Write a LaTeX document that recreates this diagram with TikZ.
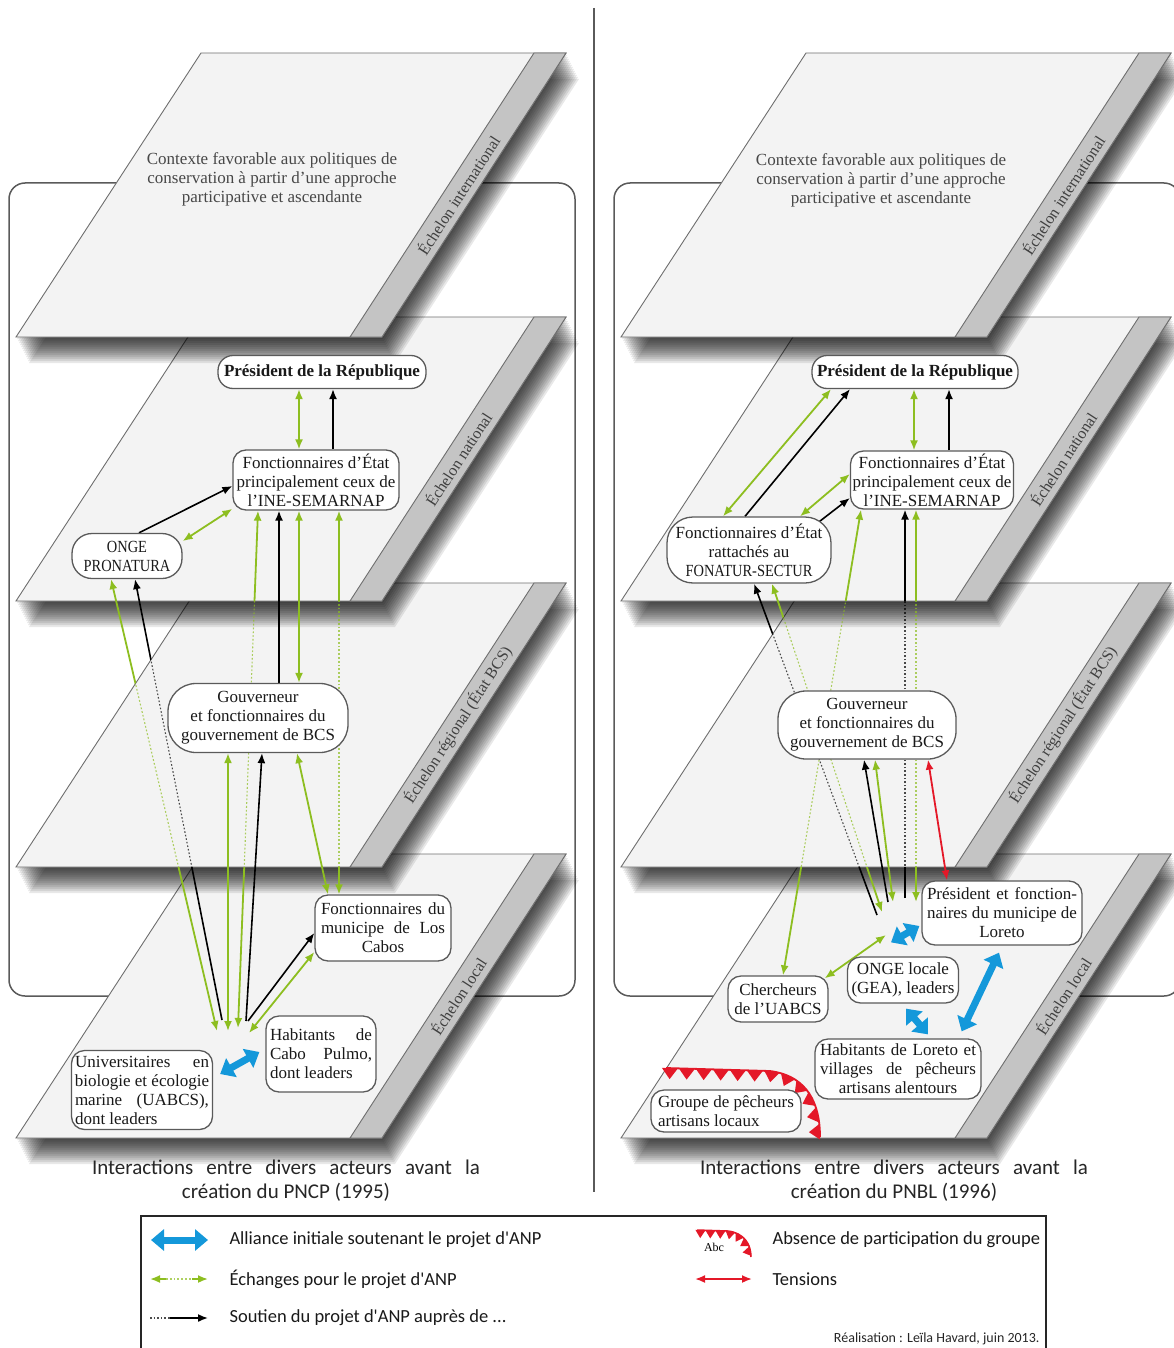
\documentclass[tikz,border=0pt]{standalone}
\usepackage{fontspec}
\setmainfont{Liberation Serif}
\newfontfamily\capfont{Carlito}
\usetikzlibrary{arrows.meta, calc, positioning, decorations.markings}

\definecolor{exchgreen}{RGB}{141,190,32}
\definecolor{allyblue}{RGB}{20,152,218}
\definecolor{tensred}{RGB}{228,24,40}
\definecolor{planefill}{RGB}{243,243,243}
\definecolor{stripgray}{RGB}{196,196,196}
\definecolor{edgegray}{RGB}{110,110,110}
\definecolor{boxline}{RGB}{90,90,90}

\pgfdeclarelayer{planes}
\pgfdeclarelayer{links}
\pgfsetlayers{planes,links,main}

\newcommand\boxfont{\fontsize{17}{19}\selectfont}
\newcommand\squeeze[1]{\scalebox{0.85}[1]{#1}}

% one level: x offset, bottom edge, label name, label
\newcommand\echelon[4]{%
  % soft shadow from stacked copies
  \foreach \k in {1,...,13}
    \fill[black, opacity=0.09]
      (#1+16+\k,#2+2*\k) -- (#1+382+\k,#2+2*\k) -- (#1+566+\k,#2-284+2*\k) -- (#1+201+\k,#2-284+2*\k) -- cycle;
  \filldraw[fill=planefill, draw=edgegray, line width=0.9pt]
    (#1+16,#2) -- (#1+382,#2) -- (#1+566,#2-284) -- (#1+201,#2-284) -- cycle;
  \filldraw[fill=stripgray, draw=edgegray, line width=0.9pt]
    (#1+350,#2) -- (#1+382,#2) -- (#1+566,#2-284) -- (#1+534,#2-284) -- cycle;
  \node[planelabel] (#3) at (#1+458,#2-142) {#4};
}
% visible part of the regional level
\newcommand\regpoly[1]{(#1+189,601) -- (#1+16,867) -- (#1+382,867) -- (#1+555,601) -- cycle}
% link that passes behind the regional level
\newcommand\crossreg[3]{%
  \begin{scope}
    \clip (-20,-20) -- (1200,-20) -- (1200,1400) -- (-20,1400) -- cycle \regpoly{#1};
    \draw[#2] #3;
  \end{scope}
  \begin{scope}
    \clip \regpoly{#1};
    \draw[#2, hid, -] #3;
  \end{scope}}

\begin{document}
\begin{tikzpicture}[
    x=1pt, y=-1pt,
    >={Latex[length=10pt,width=8pt]},
    actor/.style={draw=boxline, fill=white, line width=1.3pt, rounded corners=13pt,
        align=center, font=\boxfont, inner sep=2pt, text=black!90},
    pill/.style={actor, rounded corners=#1},
    exch/.style={draw=exchgreen, line width=1.8pt},
    supp/.style={draw=black, line width=1.6pt},
    tens/.style={draw=tensred, line width=1.8pt},
    ally/.style={draw=allyblue, line width=7pt, >={Triangle[length=13pt,width=21pt]}, <->},
    hid/.style={dotted, line width=1.1pt, draw opacity=0.7},
    planelabel/.style={rotate=57, font=\fontsize{16}{18}\selectfont, text=black!75},
    ctxtext/.style={align=center, font=\boxfont, text=black!72},
    captext/.style={align=center, font=\capfont\fontsize{21}{24}\selectfont, text=black!85},
    legtext/.style={anchor=west, font=\capfont\fontsize{18.5}{22}\selectfont, text=black!90},
    sawteeth/.style={draw=tensred, line width=1.8pt, postaction={decorate},
        decoration={markings, mark=between positions 0.02 and 1 step 17pt with
          {\fill[tensred] (-8pt,0pt) -- (8pt,0pt) -- (0pt,-11pt) -- cycle;}}},
    sawsmall/.style={draw=tensred, line width=1.5pt, postaction={decorate},
        decoration={markings, mark=between positions 0.05 and 1 step 10pt with
          {\fill[tensred] (-5pt,0pt) -- (5pt,0pt) -- (0pt,-8pt) -- cycle;}}},
]
\useasboundingbox (0,0) rectangle (1174,1348);

\begin{pgfonlayer}{planes}
% Frames of the two panels
\draw[boxline, line width=1.5pt, rounded corners=16pt] (9,183) rectangle (575,996);
\draw[boxline, line width=1.5pt, rounded corners=16pt] (614,183) rectangle (1180,996);
\draw[boxline, line width=2pt] (594,8) -- (594,1192);

% Levels, bottom one first
\echelon{0}{1138}{locL}{Échelon local}
\echelon{0}{867}{regL}{Échelon régional (État BCS)}
\echelon{0}{601}{natL}{Échelon national}
\echelon{0}{337}{intL}{Échelon international}
\echelon{605}{1138}{locR}{Échelon local}
\echelon{605}{867}{regR}{Échelon régional (État BCS)}
\echelon{605}{601}{natR}{Échelon national}
\echelon{605}{337}{intR}{Échelon international}

\node[ctxtext] (ctxL) at (272,179) {Contexte favorable aux politiques de\\conservation à partir d'une approche\\participative et ascendante};
\node[ctxtext] (ctxR) at (881,180) {Contexte favorable aux politiques de\\conservation à partir d'une approche\\participative et ascendante};
\end{pgfonlayer}

% Left panel: actors
\node[pill=15pt, minimum width=208pt, minimum height=33pt] (presL) at (322,372) {\textbf{Président de la République}};
\node[actor, minimum width=166pt, minimum height=60pt] (ineL) at (316,480) {Fonctionnaires d'État\\principalement ceux de\\l'INE-SEMARNAP};
\node[pill=20pt, minimum width=110pt, minimum height=45pt] (ongeL) at (127,556) {\squeeze{ONGE}\\\squeeze{PRONATURA}};
\node[pill=28pt, minimum width=180pt, minimum height=69pt] (gouvL) at (258,718) {Gouverneur\\et fonctionnaires du\\gouvernement de BCS};
\node[actor, minimum width=136pt, minimum height=66pt] (losc) at (383,928) {\makebox[124pt][s]{Fonctionnaires du}\\\makebox[124pt][s]{municipe de Los}\\Cabos};
\node[actor, minimum width=110pt, minimum height=76pt] (cabo) at (321,1054) {\makebox[102pt][s]{Habitants de}\\\makebox[102pt][s]{Cabo Pulmo,}\\\makebox[102pt][l]{dont leaders}};
\node[actor, minimum width=141pt, minimum height=79pt] (univ) at (142,1090) {\makebox[134pt][s]{Universitaires en}\\biologie et écologie\\\makebox[134pt][s]{marine (UABCS),}\\\makebox[134pt][l]{dont leaders}};

% Right panel: actors
\node[pill=15pt, minimum width=206pt, minimum height=33pt] (presR) at (915,372) {\textbf{Président de la République}};
\node[actor, minimum width=163pt, minimum height=58pt] (ineR) at (932,480) {Fonctionnaires d'État\\principalement ceux de\\l'INE-SEMARNAP};
\node[pill=26pt, minimum width=164pt, minimum height=66pt] (fonatur) at (749,550) {Fonctionnaires d'État\\rattachés au\\\squeeze{FONATUR-SECTUR}};
\node[pill=28pt, minimum width=178pt, minimum height=68pt] (gouvR) at (867,725) {Gouverneur\\et fonctionnaires du\\gouvernement de BCS};
\node[actor, minimum width=160pt, minimum height=64pt] (loreto) at (1002,913) {\makebox[150pt][s]{Président et fonction-}\\\makebox[150pt][s]{naires du municipe de}\\Loreto};
\node[actor, minimum width=111pt, minimum height=46pt] (ongeloc) at (903,980) {ONGE locale\\(GEA), leaders};
\node[actor, minimum width=100pt, minimum height=46pt] (cherch) at (778,999) {Chercheurs\\de l'UABCS};
\node[actor, minimum width=166pt, minimum height=60pt] (habloreto) at (898,1069) {\makebox[156pt][s]{Habitants de Loreto et}\\\makebox[156pt][s]{villages de pêcheurs}\\artisans alentours};
\node[actor, align=left, minimum width=150pt, minimum height=42pt] (groupe) at (726,1111) {Groupe de pêcheurs\\artisans locaux};

% Free ends where the local links meet
\coordinate (cG3) at (217,1031);
\coordinate (cK3) at (222,1020);
\coordinate (cG7) at (228,1031);
\coordinate (cG4) at (238,1028);
\coordinate (cK5) at (246,1021);
\coordinate (cK6) at (248,1021);
\coordinate (cG9) at (249,1033);
\coordinate (cKa) at (877,915);
\coordinate (cGb) at (882,912);
\coordinate (cKf) at (888,902);
\coordinate (cGg) at (893,902);
\coordinate (cKd) at (905,898);
\coordinate (cGe) at (916,902);
\coordinate (cGc) at (886,935);

\begin{pgfonlayer}{links}
% Left panel: links
\draw[exch, <->] ([xshift=-17pt]ineL.north) -- ([xshift=-17pt]ineL.north |- presL.south);
\draw[supp, ->] ([xshift=17pt]ineL.north) -- ([xshift=17pt]ineL.north |- presL.south);
\draw[supp, ->] ([xshift=12pt]ongeL.north) -- ([yshift=-6pt]ineL.west);
\draw[exch, <->] (ongeL.15) -- (ineL.199);
\crossreg{0}{exch, <->}{(cG3) -- ([xshift=-16pt]ongeL.south)}
\crossreg{0}{supp, ->}{(cK3) -- ([xshift=8pt]ongeL.south)}
\crossreg{0}{exch, <->}{(cG4) -- ([xshift=-58pt]ineL.south)}
\crossreg{0}{exch, <->}{([xshift=-44pt]losc.north) -- ([xshift=-44pt]losc.north |- ineL.south)}
\draw[supp, ->] ([xshift=21pt]gouvL.north) -- ([xshift=21pt]gouvL.north |- ineL.south);
\draw[exch, <->] ([xshift=41pt]gouvL.north) -- ([xshift=41pt]gouvL.north |- ineL.south);
\draw[exch, <->] (cG7) -- (cG7 |- gouvL.south);
\draw[supp, ->] (cK5) -- ([xshift=4pt]gouvL.south);
\draw[exch, <->] ([xshift=39pt]gouvL.south) -- ([xshift=-55pt]losc.north);
\draw[supp, ->] (cK6) -- ([yshift=-5pt]losc.west);
\draw[exch, <->] (cG9) -- ([yshift=-24pt]losc.west);
\draw[ally] ([xshift=7pt,yshift=16pt]univ.east) -- ([xshift=-6pt,yshift=2pt]cabo.west);

% Right panel: links
\draw[exch, <->] ([xshift=-18pt]ineR.north) -- ([xshift=-18pt]ineR.north |- presR.south);
\draw[supp, ->] ([xshift=17pt]ineR.north) -- ([xshift=17pt]ineR.north |- presR.south);
\draw[exch, <->] ([xshift=-26pt]fonatur.north) -- ([xshift=-84pt]presR.south);
\draw[supp, ->] ([xshift=-4pt]fonatur.north) -- ([xshift=-65pt]presR.south);
\draw[exch, <->] ([xshift=51pt]fonatur.north) -- ([yshift=6pt]ineR.west);
\draw[supp, ->] ([xshift=-12pt,yshift=-5pt]fonatur.north east) -- ([yshift=-18pt]ineR.west);
\crossreg{605}{supp, ->}{(cKa) -- ([xshift=5pt]fonatur.south)}
\crossreg{605}{exch, <->}{(cGb) -- ([xshift=23pt]fonatur.south)}
\crossreg{605}{exch, <->}{([xshift=5pt]cherch.north) -- ([xshift=-71pt]ineR.south)}
\crossreg{605}{supp, ->}{(cKd) -- (cKd |- ineR.south)}
\crossreg{605}{exch, <->}{(cGe) -- (cGe |- ineR.south)}
\draw[supp, ->] (cKf) -- ([xshift=-3pt]gouvR.south);
\draw[exch, <->] (cGg) -- ([xshift=8pt]gouvR.south);
\draw[tens, <->] ([xshift=61pt]gouvR.south) -- ([xshift=-55pt]loreto.north);
\draw[exch, <->] ([xshift=-4pt,yshift=-3pt]cherch.north east) -- (cGc);
\draw[ally] ([xshift=-12pt,yshift=14pt]ongeloc.north) -- ([xshift=-2pt,yshift=-13pt]loreto.west);
\draw[ally] ([xshift=3pt,yshift=-5pt]ongeloc.south) -- ([xshift=30pt,yshift=4pt]habloreto.north);
\draw[ally] ([xshift=-3pt,yshift=-7pt]loreto.south) -- ([xshift=-20pt,yshift=7pt]habloreto.north east);
\draw[sawteeth] (666,1068) -- (770,1071) .. controls (808,1076) and (820,1104) .. (820,1137);
\end{pgfonlayer}

% Captions
\node[captext] (capL) at (286,1181) {\makebox[388pt][s]{Interactions entre divers acteurs avant la}\\création du PNCP (1995)};
\node[captext] (capR) at (894,1181) {\makebox[388pt][s]{Interactions entre divers acteurs avant la}\\création du PNBL (1996)};

% Legend
\draw[black!85, line width=2.2pt] (141,1360) -- (141,1216) -- (1046,1216) -- (1046,1360);
\coordinate (lgAa) at (151,1240);
\coordinate (lgAb) at (208,1240);
\coordinate (lgEa) at (150,1279);
\coordinate (lgEb) at (208,1279);
\coordinate (lgSa) at (150,1318);
\coordinate (lgSb) at (208,1318);
\coordinate (lgTa) at (695,1279);
\coordinate (lgTb) at (752,1279);
\draw[ally] (lgAa) -- (lgAb);
\draw[exch, <-] (lgEa) -- ++(16,0);
\draw[exch, hid] ($(lgEa)+(16,0)$) -- ($(lgEb)+(-16,0)$);
\draw[exch, ->] ($(lgEb)+(-16,0)$) -- (lgEb);
\draw[supp, hid] (lgSa) -- ++(20,0);
\draw[supp, ->] ($(lgSa)+(20,0)$) -- (lgSb);
\draw[tens, <->] (lgTa) -- (lgTb);
\draw[sawsmall] (697,1230) -- (728,1231) .. controls (744,1233) and (751,1244) .. (751,1257);
\node[font=\fontsize{12}{14}\selectfont] (abc) at (714,1247) {Abc};
\node[legtext] (legAlly) at (226,1240) {Alliance initiale soutenant le projet d'ANP};
\node[legtext] (legExch) at (226,1279) {Échanges pour le projet d'ANP};
\node[legtext] (legSupp) at (226,1318) {Soutien du projet d'ANP auprès de ...};
\node[legtext] (legAbs) at (769,1240) {Absence de participation du groupe};
\node[legtext] (legTens) at (769,1279) {Tensions};
\node[anchor=east, font=\capfont\fontsize{14}{16}\selectfont, text=black!85] (credit) at (1043,1339) {Réalisation : Leïla Havard, juin 2013.};
\end{tikzpicture}
\end{document}
